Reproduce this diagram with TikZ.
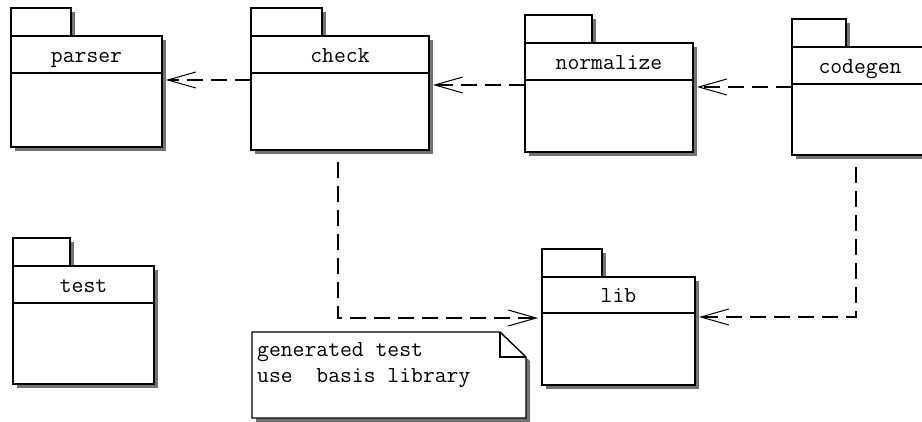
\documentclass[tikz,border=0pt]{standalone}
\usetikzlibrary{arrows.meta,fit}

\tikzset{
  outline/.style={draw=black, line width=1.4pt},
  shade/.style={fill=black!55},
  pkglabel/.style={font=\ttfamily\fontsize{23}{26}\selectfont, inner sep=0pt, anchor=base},
  dep/.style={draw=black, line width=1.3pt, dash pattern=on 16pt off 8pt,
    -{Straight Barb[length=28pt, width=16pt, line width=1pt]}, shorten >=4pt},
}

% #1 node name, #2 left, #3 body top, #4 right, #5 bottom,
% #6 tab right, #7 tab top, #8 header rule y, #9 label
\newcommand\umlpackage[9]{%
  \fill[shade] (#2+4,#7+4) rectangle (#6+4,#3+4);
  \fill[shade] (#2+4,#3+4) rectangle (#4+4,#5+4);
  \draw[outline, fill=white] (#2,#7) rectangle (#6,#3);
  \draw[outline, fill=white] (#2,#3) rectangle (#4,#5);
  \path (#2,#3) coordinate (#1-nw) (#4,#5) coordinate (#1-se);
  \node[inner sep=0pt, outer sep=0pt, fit=(#1-nw)(#1-se)] (#1) {};
  \draw[outline] (#2,#8) -- (#4,#8);
  \node[pkglabel] (#1-label) at ({(#2+#4)/2},{#8-10}) {#9};
}

\begin{document}
\begin{tikzpicture}[x=1pt, y=-1pt]
  \useasboundingbox (0,0) rectangle (922,422);
  \clip (0,0) rectangle (922,422);

  \umlpackage{parser}{11}{36}{162}{147}{71}{8}{73}{parser}
  \umlpackage{check}{251}{36}{429}{150}{322}{8}{73}{check}
  \umlpackage{normalize}{525}{43}{693}{152}{592}{15}{80}{normalize}
  \umlpackage{codegen}{792}{47}{928}{155}{846}{19}{84}{codegen}
  \umlpackage{test}{13}{266}{154}{384}{70}{238}{303}{test}
  \umlpackage{lib}{542}{277}{695}{385}{602}{249}{313}{lib}

  % note with folded corner
  \fill[shade] (256,336) -- (504,336) -- (530,361) -- (530,422) -- (256,422) -- cycle;
  \draw[outline, fill=white] (252,332) -- (500,332) -- (526,357) -- (526,418) -- (252,418) -- cycle;
  \draw[outline] (500,332) -- (500,357) -- (526,357);
  \path (252,332) coordinate (note-nw) (526,418) coordinate (note-se);
  \node[inner sep=0pt, fit=(note-nw)(note-se)] (note) {};
  \node[pkglabel, anchor=base west] (note-line1) at (257,357) {generated test};
  \node[pkglabel, anchor=base west] (note-line2) at (257,383) {use\ \ basis library};

  % dependencies
  \draw[dep] (check.west |- 0,80) -- (parser.east |- 0,80);
  \draw[dep] (normalize.west |- 0,85) -- (check.east |- 0,85);
  \draw[dep] (codegen.west |- 0,87) -- (normalize.east |- 0,87);
  \draw[dep] ([yshift=-12pt]check.south -| 338,0) |- (lib.west |- 0,318);
  \draw[dep] ([yshift=-12pt]codegen.south -| 856,0) |- (lib.east |- 0,317);
\end{tikzpicture}
\end{document}
